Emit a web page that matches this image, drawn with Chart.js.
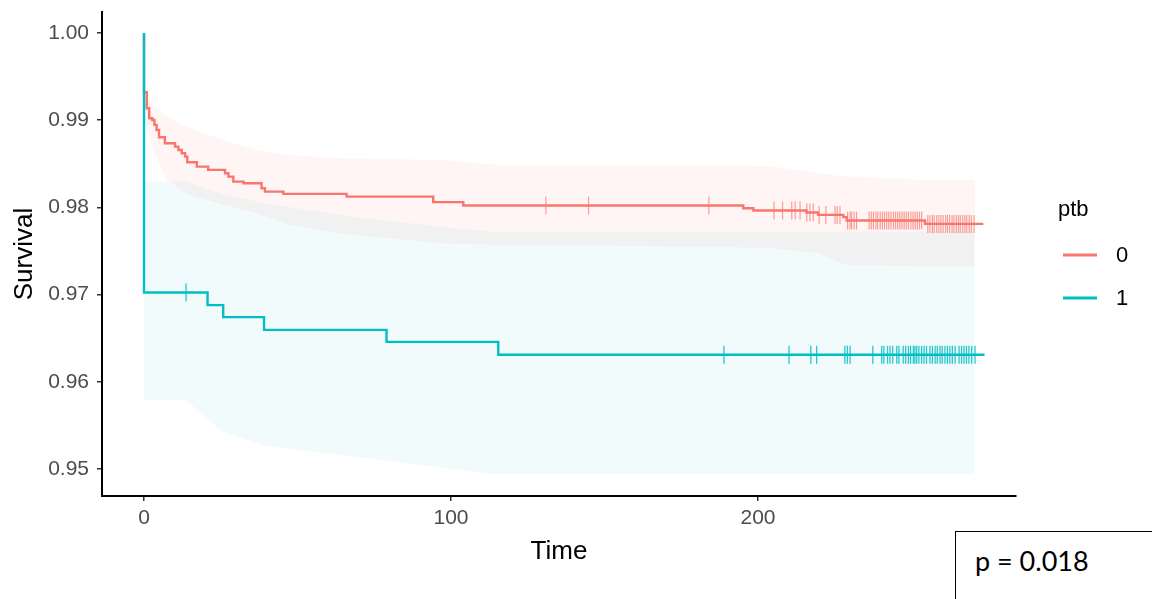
<!DOCTYPE html>
<html>
<head>
<meta charset="utf-8">
<script src="https://cdn.jsdelivr.net/npm/chart.js@4/dist/chart.umd.min.js"></script>
<style>
  html, body { margin: 0; padding: 0; background: #ffffff; }
  #wrap { position: relative; width: 1152px; height: 599px; overflow: hidden; }
  #c { position: absolute; left: 0; top: 0; }
  #pbox { position: absolute; left: 955px; top: 531px; width: 240px; height: 120px; border: 1px solid #000; box-sizing: border-box; background: #fff; }
  #ptext { position: absolute; left: 975px; top: 544px; font-family: Lato, "Open Sans", sans-serif; font-size: 27px; color: #000; white-space: nowrap; }
</style>
</head>
<body>
<div id="wrap">
  <canvas id="c" width="1152" height="599"></canvas>
  <div id="pbox"></div>
  <div id="ptext">p = 0.018</div>
</div>
<script>
// ---------- data ----------
const groupTitle = 'ptb';
const groupLabels = ['0', '1'];
const yTickValues = [0.95, 0.96, 0.97, 0.98, 0.99, 1.00];
const xTickValues = [0, 100, 200];

// ptb = 0 : Kaplan-Meier steps (time, survival)
const redTime = [0, 0, 0.9, 1.7, 2.7, 3.4, 4.1, 4.9, 6.8, 10.1, 11.2, 12.3, 13.4, 14.1, 17.2, 20.9, 26.4, 27.5, 29.1, 32.4, 38.3, 39.4, 45.4, 66.0, 94.2, 104.0, 195.2, 198.5, 215.8, 219.6, 227.8, 228.9, 254.4, 273.4];
const redSurv = [1.0, 0.9932, 0.99137, 0.99022, 0.99003, 0.98946, 0.98888, 0.98805, 0.98736, 0.98697, 0.98659, 0.98621, 0.98582, 0.98518, 0.98468, 0.98430, 0.98392, 0.98353, 0.98296, 0.98277, 0.98220, 0.98181, 0.98155, 0.98124, 0.98060, 0.98021, 0.97991, 0.97964, 0.97941, 0.97914, 0.97888, 0.97849, 0.97811, 0.97811];
// ptb = 0 : censor times
const redCensor = [130.9, 144.8, 184.0, 205.2, 208.0, 211.0, 212.1, 213.7, 215.9, 216.9, 218.0, 219.9, 222.1, 225.1, 225.8, 226.7, 229.2, 230.0, 230.5, 231.3, 232.1, 236.2, 236.9, 237.6, 238.4, 239.0, 239.8, 240.5, 241.2, 241.9, 242.6, 243.3, 244.1, 244.8, 245.5, 246.2, 246.9, 247.6, 248.3, 249.0, 249.8, 250.5, 251.2, 251.9, 252.6, 253.3, 255.3, 256.0, 256.8, 257.4, 258.2, 258.9, 259.6, 260.3, 261.1, 261.7, 262.4, 263.2, 263.8, 264.6, 265.3, 265.9, 266.7, 267.4, 268.0, 268.8, 269.5, 270.4];
// ptb = 0 : confidence band
const redCiTime  = [0, 1, 3, 7.4, 13.9, 25.8, 36.8, 47.6, 63.8, 96.4, 115, 187, 205, 220, 228, 255, 270.7];
const redCiUpper = [0.9950, 0.9935, 0.99155, 0.99040, 0.98926, 0.98774, 0.98659, 0.98602, 0.98564, 0.98544, 0.98487, 0.98487, 0.98470, 0.98392, 0.98353, 0.98315, 0.98315];
const redCiLower = [0.9905, 0.9889, 0.9865, 0.9832, 0.9815, 0.9803, 0.9793, 0.9780, 0.9770, 0.9759, 0.9757, 0.9755, 0.9753, 0.97475, 0.97341, 0.97322, 0.97322];

// ptb = 1 : Kaplan-Meier steps
const cyanTime = [0, 0, 20.7, 25.8, 39.1, 79.0, 115.4, 273.8];
const cyanSurv = [1.0, 0.97024, 0.96879, 0.96742, 0.96596, 0.96458, 0.96310, 0.96310];
// ptb = 1 : censor times
const cyanCensor = [13.7, 188.9, 210.1, 217.2, 219.1, 228.3, 229.1, 230.0, 237.4, 240.3, 241.0, 242.2, 243.0, 243.9, 245.2, 245.9, 247.3, 248.1, 249.0, 249.7, 250.6, 251.1, 251.7, 252.4, 253.3, 254.1, 254.9, 256.0, 256.8, 257.7, 258.4, 259.3, 260.0, 260.9, 261.7, 262.5, 263.3, 264.2, 265.5, 266.3, 267.1, 267.9, 268.7, 269.6, 270.7];
// ptb = 1 : confidence band
const cyanCiTime  = [0, 13.7, 25.5, 39, 66, 96, 112.8, 270.5];
const cyanCiUpper = [0.9830, 0.9830, 0.9815, 0.9805, 0.9790, 0.9778, 0.9772, 0.9772];
const cyanCiLower = [0.95786, 0.95786, 0.95431, 0.95267, 0.95152, 0.9502, 0.94942, 0.94942];

// ---------- helpers ----------
const redColor = '#F8766D';
const cyanColor = '#00BFC4';
const pts = (xs, ys) => xs.map((x, i) => ({ x: x, y: ys[i] }));
function stepValue(times, surv, t) {
  let v = surv[0];
  for (let i = 0; i < times.length; i++) { if (times[i] <= t) v = surv[i]; }
  return v;
}
const censorPts = (cens, times, surv) => cens.map(t => ({ x: t, y: stepValue(times, surv, t) }));

const tickFont = { family: '"Liberation Sans", Arial, sans-serif', size: 21 };
const titleFont = { family: '"Liberation Sans", Arial, sans-serif', size: 26 };

const legendPlugin = {
  id: 'kmLegend',
  afterDraw(chart) {
    const ctx = chart.ctx;
    ctx.save();
    ctx.font = '22px "Liberation Sans", Arial, sans-serif';
    ctx.fillStyle = '#000';
    ctx.textAlign = 'left';
    ctx.textBaseline = 'alphabetic';
    ctx.fillText(groupTitle, 1058, 216);
    const entries = [
      { label: groupLabels[0], color: redColor, y: 255 },
      { label: groupLabels[1], color: cyanColor, y: 298 }
    ];
    entries.forEach(e => {
      ctx.strokeStyle = e.color;
      ctx.lineWidth = 3;
      ctx.beginPath();
      ctx.moveTo(1063, e.y);
      ctx.lineTo(1097, e.y);
      ctx.stroke();
      ctx.textBaseline = 'middle';
      ctx.fillStyle = '#000';
      ctx.fillText(e.label, 1116, e.y + 1);
    });
    ctx.restore();
  }
};

const X0 = 102, X1 = 1016, Y0 = 12, Y1 = 496;

new Chart(document.getElementById('c'), {
  type: 'line',
  data: {
    datasets: [
      { label: 'c1', data: censorPts(cyanCensor, cyanTime, cyanSurv), showLine: false,
        pointStyle: 'line', pointRotation: 90, pointRadius: 9, pointHoverRadius: 9,
        pointBorderColor: 'rgba(0,191,196,0.85)', pointBorderWidth: 1.3, borderColor: cyanColor },
      { label: 'c0', data: censorPts(redCensor, redTime, redSurv), showLine: false,
        pointStyle: 'line', pointRotation: 90, pointRadius: 9, pointHoverRadius: 9,
        pointBorderColor: 'rgba(248,118,109,0.7)', pointBorderWidth: 1.2, borderColor: redColor },
      { label: groupLabels[1], data: pts(cyanTime, cyanSurv), stepped: 'before',
        borderColor: cyanColor, borderWidth: 2.4, pointRadius: 0, fill: false },
      { label: groupLabels[0], data: pts(redTime, redSurv), stepped: 'before',
        borderColor: redColor, borderWidth: 2.4, pointRadius: 0, fill: false },
      { label: 'ci1u', data: pts(cyanCiTime, cyanCiUpper), borderWidth: 0, pointRadius: 0,
        borderColor: 'rgba(0,0,0,0)', fill: '+1', backgroundColor: 'rgba(0,191,196,0.055)', tension: 0 },
      { label: 'ci1l', data: pts(cyanCiTime, cyanCiLower), borderWidth: 0, pointRadius: 0,
        borderColor: 'rgba(0,0,0,0)', fill: false, tension: 0 },
      { label: 'ci0u', data: pts(redCiTime, redCiUpper), borderWidth: 0, pointRadius: 0,
        borderColor: 'rgba(0,0,0,0)', fill: '+1', backgroundColor: 'rgba(248,118,109,0.07)', tension: 0 },
      { label: 'ci0l', data: pts(redCiTime, redCiLower), borderWidth: 0, pointRadius: 0,
        borderColor: 'rgba(0,0,0,0)', fill: false, tension: 0 }
    ]
  },
  options: {
    responsive: false,
    animation: false,
    events: [],
    layout: { padding: { left: 0, top: Y0, right: 1152 - X1, bottom: 0 } },
    plugins: { legend: { display: false }, tooltip: { enabled: false } },
    scales: {
      x: {
        type: 'linear',
        min: -13.68, max: 284.04,
        afterFit: s => { s.height = 599 - Y1; s.paddingLeft = 0; s.paddingRight = 0; },
        afterBuildTicks: s => { s.ticks = xTickValues.map(v => ({ value: v })); },
        border: { display: true, color: '#000', width: 2 },
        grid: { drawOnChartArea: false, drawTicks: true, tickLength: 5, color: '#333', lineWidth: 1.5 },
        ticks: { color: '#4D4D4D', font: tickFont, padding: 5, maxRotation: 0, autoSkip: false,
                 callback: v => String(v) },
        title: { display: true, text: 'Time', color: '#000', font: titleFont, padding: { top: 0, bottom: 32 } }
      },
      y: {
        type: 'linear',
        min: 0.946904, max: 1.002408,
        afterFit: s => { s.width = X0; s.paddingTop = 0; s.paddingBottom = 0; },
        afterBuildTicks: s => { s.ticks = yTickValues.map(v => ({ value: v })); },
        border: { display: true, color: '#000', width: 2 },
        grid: { drawOnChartArea: false, drawTicks: true, tickLength: 5, color: '#333', lineWidth: 1.5 },
        ticks: { color: '#4D4D4D', font: tickFont, padding: 8, autoSkip: false,
                 callback: v => Number(v).toFixed(2) },
        title: { display: true, text: 'Survival', color: '#000', font: titleFont, padding: { top: 9, bottom: 0 } }
      }
    }
  },
  plugins: [legendPlugin]
});
</script>
</body>
</html>
